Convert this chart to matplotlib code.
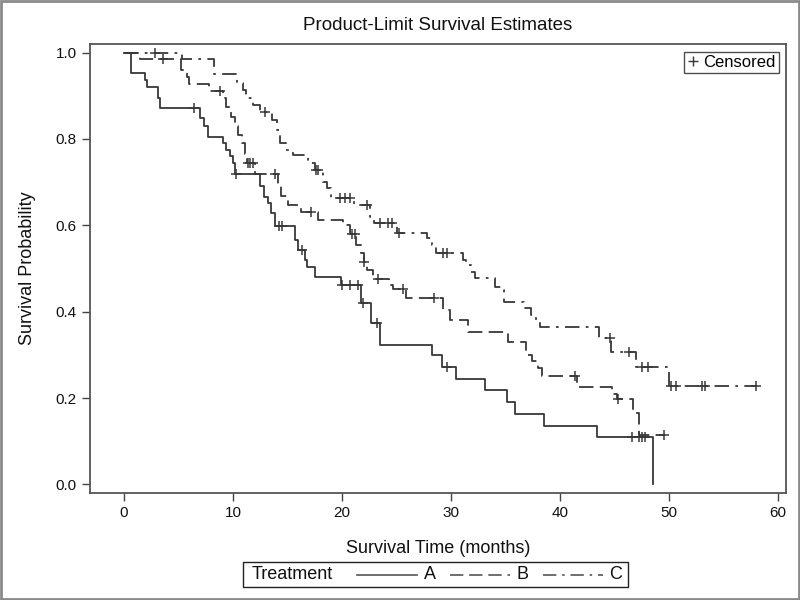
import numpy as np
import matplotlib
matplotlib.use("Agg")
import matplotlib.pyplot as plt
from matplotlib.lines import Line2D
from matplotlib.patches import Rectangle

plt.rcParams["font.family"] = ["Liberation Sans", "DejaVu Sans"]

# ---------------------------------------------------------------------------
# Kaplan-Meier step data (time in months, survival)
# ---------------------------------------------------------------------------
a_time = [0, 0.6, 1.9, 2.1, 3.1, 3.3, 7.0, 7.3, 7.7, 9.1, 9.4, 9.7, 10.0, 10.2,
          12.5, 12.8, 13.2, 13.5, 13.85, 15.7, 16.0, 16.6, 16.8, 17.5, 19.9,
          21.7, 22.7, 23.5, 28.3, 29.2, 30.5, 33.1, 35.1, 35.9, 38.5, 43.4, 48.5]
a_surv = [1.0, 0.952, 0.937, 0.921, 0.895, 0.871, 0.848, 0.829, 0.805, 0.790,
          0.775, 0.760, 0.744, 0.720, 0.690, 0.666, 0.651, 0.628, 0.598, 0.566,
          0.543, 0.520, 0.504, 0.481, 0.462, 0.419, 0.373, 0.323, 0.300, 0.272,
          0.244, 0.218, 0.191, 0.163, 0.135, 0.110, 0.0]
a_cens = [6.4, 10.3, 14.2, 14.5, 16.3, 20.0, 20.7, 21.5, 21.9, 23.2, 29.6,
          46.6, 47.2, 47.5, 47.8]

b_time = [0, 1.5, 5.2, 5.8, 6.0, 7.8, 9.1, 9.4, 9.8, 10.2, 10.5, 10.8, 11.1,
          11.3, 12.0, 14.1, 14.4, 15.0, 16.2, 17.8, 20.1, 20.7, 21.3, 21.7,
          22.0, 22.3, 22.8, 24.3, 24.7, 25.9, 29.3, 29.9, 31.6, 35.2, 36.9,
          37.4, 38.0, 38.3, 41.6, 44.8, 45.2, 46.7, 47.2, 49.5]
b_surv = [1.0, 0.985, 0.96, 0.943, 0.927, 0.91, 0.895, 0.875, 0.85, 0.83, 0.81,
          0.79, 0.765, 0.745, 0.72, 0.69, 0.667, 0.647, 0.631, 0.612, 0.60,
          0.58, 0.555, 0.535, 0.516, 0.497, 0.476, 0.462, 0.452, 0.431, 0.404,
          0.38, 0.352, 0.329, 0.30, 0.285, 0.27, 0.252, 0.225, 0.21, 0.197,
          0.166, 0.114, 0.114]
b_cens = [3.6, 8.8, 11.4, 11.6, 11.8, 13.85, 17.2, 20.9, 21.2, 22.0, 23.3,
          25.6, 28.4, 41.4, 45.35, 49.5]

c_time = [0, 5.3, 8.3, 10.4, 10.9, 11.2, 11.8, 12.5, 13.6, 14.0, 14.3, 14.9,
          15.5, 16.9, 17.5, 18.3, 18.6, 19.0, 21.1, 22.6, 22.9, 25.0, 27.8,
          28.3, 28.6, 31.1, 31.4, 31.8, 32.2, 34.0, 34.6, 34.9, 36.7, 37.3,
          37.8, 38.2, 43.6, 44.7, 47.0, 50.0, 58.0]
c_surv = [1.0, 0.985, 0.95, 0.93, 0.913, 0.895, 0.879, 0.863, 0.845, 0.82,
          0.79, 0.775, 0.762, 0.744, 0.728, 0.70, 0.686, 0.663, 0.647, 0.62,
          0.605, 0.582, 0.57, 0.555, 0.535, 0.52, 0.508, 0.493, 0.477, 0.458,
          0.45, 0.423, 0.408, 0.392, 0.377, 0.365, 0.339, 0.307, 0.272, 0.228,
          0.228]
c_cens = [2.85, 12.9, 17.6, 17.8, 19.8, 20.3, 20.7, 22.3, 23.5, 24.2, 24.6,
          25.2, 29.3, 29.6, 44.6, 46.3, 47.5, 48.1, 50.2, 50.6, 53.0, 53.3, 58.0]

groups = ["A", "B", "C"]
x_ticks = [0, 10, 20, 30, 40, 50, 60]
y_ticks = [0.0, 0.2, 0.4, 0.6, 0.8, 1.0]

INK = "#383838"
TXT = "#111111"
styles = {
    "A": "-",
    "B": (0, (8, 3.5)),
    "C": (0, (8, 3.5, 1.5, 3.5)),
}


def surv_at(t, times, surv):
    idx = np.searchsorted(times, t, side="right") - 1
    return np.asarray(surv)[idx]


fig = plt.figure(figsize=(8, 6), dpi=100)
ax = fig.add_axes([90 / 800, 1 - 493 / 600, 696 / 800, 449 / 600])

series = [(a_time, a_surv, a_cens), (b_time, b_surv, b_cens), (c_time, c_surv, c_cens)]
for name, (t, s, cens) in zip(groups, series):
    ax.step(t, s, where="post", color=INK, lw=1.3, linestyle=styles[name])
    ax.plot(cens, surv_at(cens, t, s), linestyle="none", marker="+",
            ms=7, mew=1.1, color=INK)

ax.set_xlim(-3.12, 60.73)
ax.set_ylim(-0.02, 1.02)
ax.set_xticks(x_ticks)
ax.set_yticks(y_ticks)
ax.set_xticklabels([str(v) for v in x_ticks])
ax.set_yticklabels([f"{v:.1f}" for v in y_ticks])
ax.tick_params(direction="out", length=6, width=1.0, colors="#444444",
               labelsize=11, labelcolor=TXT)
for sp in ax.spines.values():
    sp.set_color("#555555")
    sp.set_linewidth(1.3)

ax.set_xlabel("Survival Time (months)", fontsize=13, labelpad=14, color=TXT)
ax.set_ylabel("Survival Probability", fontsize=13, labelpad=14, color=TXT)
fig.text(0.5475, 0.958, "Product-Limit Survival Estimates", ha="center",
         va="center", fontsize=13.5, color=TXT)

# censored key, top right
cens_handle = Line2D([], [], marker="+", linestyle="none", color=INK, ms=7, mew=1.0)
leg = ax.legend([cens_handle], ["Censored"], loc="upper right", fontsize=12,
                frameon=True, fancybox=False, handlelength=0.6,
                handletextpad=0.3, borderpad=0.2, borderaxespad=0.45)
leg.get_frame().set_edgecolor("#222222")
leg.get_frame().set_linewidth(1.0)

# treatment key, bottom
fig.patches.append(Rectangle((243 / 800, 1 - 587 / 600), 385 / 800, 25 / 600,
                             transform=fig.transFigure, fill=False,
                             edgecolor="#222222", lw=1.0))
ky = 1 - 574.5 / 600
fig.text(252 / 800, ky, "Treatment", ha="left", va="center", fontsize=13,
         color=TXT)
key_x = {"A": (357, 417, 430), "B": (450, 510, 523), "C": (543, 603, 616)}
for name in groups:
    x0, x1, xt = key_x[name]
    fig.lines.append(Line2D([x0 / 800, x1 / 800], [ky, ky], transform=fig.transFigure,
                            color="#555555", lw=1.2, linestyle=styles[name]))
    fig.text(xt / 800, ky, name, ha="center", va="center", fontsize=13,
             color=TXT)

# graph border
fig.patches.append(Rectangle((0.001, 0.002), 0.998, 0.996, transform=fig.transFigure,
                             fill=False, edgecolor="#8a8a8a", lw=2.0))

fig.savefig("out.png", dpi=100)
